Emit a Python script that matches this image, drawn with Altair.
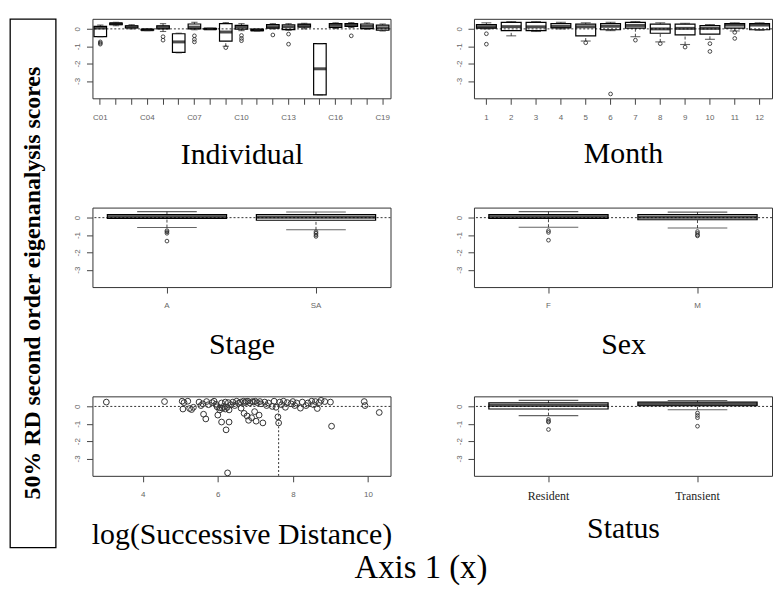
import json
import altair as alt
import pandas as pd

# ---------------- text ----------------
Y_TITLE = "50% RD second order eigenanalysis scores"
X_TITLE = "Axis  1  (x)"

# ---------------- shared y scale ----------------
y_ticks = [0, -1, -2, -3]
y_domain = [-4.0, 0.58]
zero_level = [0.0]

# ---------------- Individual ----------------
individuals = ["C01", "C02", "C03", "C04", "C05", "C06", "C07", "C08", "C09", "C10",
               "C11", "C12", "C13", "C14", "C15", "C16", "C17", "C18", "C19"]
individual_shown = ["C01", "C04", "C07", "C10", "C13", "C16", "C19"]
ind_lw = [-0.45, 0.18, 0.00, -0.10, -0.15, -1.38, -0.05, -0.03, -1.00, -0.10,
          -0.12, 0.00, -0.08, 0.00, -3.80, 0.02, 0.08, -0.02, -0.12]
ind_q1 = [-0.45, 0.24, 0.05, -0.08, 0.00, -1.35, 0.00, -0.02, -0.70, -0.02,
          -0.10, 0.04, -0.04, 0.10, -3.80, 0.08, 0.14, 0.02, -0.08]
ind_med = [0.05, 0.30, 0.12, -0.05, 0.10, -0.75, 0.10, 0.00, -0.18, 0.10,
           -0.06, 0.12, 0.12, 0.20, -2.30, 0.20, 0.22, 0.15, 0.06]
ind_q3 = [0.15, 0.33, 0.18, -0.02, 0.18, -0.28, 0.28, 0.02, 0.30, 0.20,
          -0.03, 0.25, 0.24, 0.27, -0.85, 0.30, 0.30, 0.28, 0.22]
ind_uw = [0.22, 0.38, 0.24, 0.00, 0.30, -0.25, 0.38, 0.03, 0.36, 0.30,
          -0.02, 0.30, 0.30, 0.32, -0.85, 0.35, 0.36, 0.34, 0.28]
ind_out = [[-0.75, -0.82, -0.88], [], [], [], [-0.45, -0.65], [], [-0.40, -0.60, -0.75],
           [], [-1.08], [-0.38, -0.55, -0.68], [], [-0.35], [-0.30, -0.88], [], [],
           [], [-0.40], [], []]

# ---------------- Month ----------------
months = ["1", "2", "3", "4", "5", "6", "7", "8", "9", "10", "11", "12"]
mon_lw = [0.00, -0.40, -0.15, 0.00, -0.70, -0.10, -0.45, -0.75, -0.90, -0.60, -0.12, -0.08]
mon_q1 = [0.04, -0.10, -0.10, 0.06, -0.40, -0.05, 0.04, -0.25, -0.35, -0.30, 0.04, -0.05]
mon_med = [0.12, 0.13, 0.12, 0.14, 0.12, 0.15, 0.20, 0.00, 0.03, 0.03, 0.22, 0.22]
mon_q3 = [0.25, 0.38, 0.38, 0.30, 0.27, 0.30, 0.38, 0.27, 0.27, 0.19, 0.30, 0.30]
mon_uw = [0.35, 0.42, 0.42, 0.38, 0.35, 0.38, 0.42, 0.35, 0.32, 0.25, 0.35, 0.35]
mon_out = [[-0.28, -0.88], [], [], [], [-0.80], [-3.75], [-0.65], [-0.85], [-1.05],
           [-0.85, -1.30], [-0.20, -0.55], []]

# ---------------- Stage ----------------
stages = ["A", "SA"]
stg_lw = [-0.57, -0.70]
stg_q1 = [-0.05, -0.15]
stg_med = [0.05, 0.02]
stg_q3 = [0.17, 0.17]
stg_uw = [0.35, 0.33]
stg_out = [[-0.75, -0.82, -0.90, -1.35], [-0.82, -0.90, -1.00, -1.08]]

# ---------------- Sex ----------------
sexes = ["F", "M"]
sex_lw = [-0.55, -0.60]
sex_q1 = [-0.05, -0.12]
sex_med = [0.05, 0.02]
sex_q3 = [0.18, 0.17]
sex_uw = [0.35, 0.32]
sex_out = [[-0.75, -0.85, -1.30], [-0.80, -0.90, -1.00, -1.05]]

# ---------------- Status ----------------
statuses = ["Resident", "Transient"]
sta_lw = [-0.53, -0.19]
sta_q1 = [-0.15, 0.04]
sta_med = [0.05, 0.12]
sta_q3 = [0.20, 0.25]
sta_uw = [0.35, 0.34]
sta_out = [[-0.75, -0.85, -0.90, -1.33], [-0.38, -0.52, -0.65, -1.14]]

# ---------------- log(Successive Distance) scatter ----------------
dist_x = [3.03, 4.58, 5.05, 5.20, 5.10, 5.07, 5.25, 5.30, 5.35, 5.50,
          5.55, 5.60, 5.70, 5.75, 5.62, 5.68, 5.85, 5.90, 5.95, 5.98,
          6.00, 6.05, 6.05, 6.10, 6.10, 6.12, 6.15, 6.20, 6.20, 6.22,
          6.25, 6.28, 6.30, 6.30, 6.26, 6.35, 6.40, 6.45, 6.50, 6.55,
          6.60, 6.62, 6.68, 6.70, 6.72, 6.75, 6.78, 6.80, 6.82, 6.85,
          6.90, 6.92, 6.95, 6.98, 7.00, 7.02, 7.05, 7.10, 7.12, 7.15,
          7.20, 7.25, 7.30, 7.35, 7.45, 7.50, 7.55, 7.60, 7.62, 7.65,
          7.70, 7.75, 7.80, 7.85, 7.95, 8.00, 8.05, 8.10, 8.20, 8.25,
          8.35, 8.40, 8.50, 8.55, 8.60, 8.65, 8.70, 8.75, 8.85, 9.00,
          9.03, 9.90, 9.92, 10.30]
dist_y = [0.25, 0.28, 0.30, 0.30, 0.22, -0.15, -0.12, -0.18, -0.05, 0.25,
          0.05, 0.15, 0.28, 0.10, -0.45, -0.72, 0.22, 0.30, 0.12, -0.02,
          -0.50, -0.20, -0.08, -0.90, 0.20, -0.10, 0.00, -0.15, 0.25, -1.35,
          -0.05, 0.22, -0.90, -0.20, -3.83, 0.10, 0.25, 0.05, 0.30, 0.18,
          0.25, -0.10, 0.30, -0.40, 0.22, 0.28, -0.55, 0.30, -0.80, 0.20,
          -0.65, 0.28, 0.25, -0.30, 0.30, -0.85, 0.22, -0.50, 0.28, 0.15,
          -0.95, 0.25, 0.05, 0.20, 0.00, 0.30, -0.05, -0.60, -0.95, 0.25,
          0.10, 0.30, -0.05, 0.22, 0.15, 0.28, 0.05, 0.20, -0.10, 0.25,
          0.05, 0.20, 0.30, 0.10, 0.28, -0.12, 0.22, 0.35, 0.28, 0.25,
          -1.14, 0.28, 0.05, -0.35]
dist_vline_x = [7.62]
dist_vline_from = [0.0]
dist_vline_to = [-4.0]
dist_ticks = [4, 6, 8, 10]
dist_domain = [2.66, 10.6]

# ---------------- style / layout ----------------
SERIF = "Liberation Serif"
SANS = "Liberation Sans"
PW, PH = 300, 80
TB_W, TB_H = 46, 532
INK = "#333333"
LABEL_GRAY = "#666666"

y_scale = alt.Scale(domain=y_domain, nice=False, zero=False)
y_axis = alt.Axis(values=y_ticks, labelExpr="datum.value + ''", labelAngle=270,
                  labelAlign="center", labelBaseline="bottom", labelFont=SANS,
                  labelFontSize=8, labelColor=LABEL_GRAY, labelPadding=5,
                  tickSize=6, tickColor="#444444", domain=False, grid=False, title=None)


def x_axis(title, title_pad, label_font=SANS, label_size=8, label_color=LABEL_GRAY,
           values=None, label_expr=None):
    kw = dict(title=title, titleFont=SERIF, titleFontSize=30, titleFontWeight="normal",
              titleColor="black", titlePadding=title_pad, labelFont=label_font,
              labelFontSize=label_size, labelColor=label_color, labelAngle=0,
              labelPadding=9, tickSize=6, tickColor="#444444", domain=False, grid=False)
    if values is not None:
        kw["values"] = values
    if label_expr is not None:
        kw["labelExpr"] = label_expr
    return alt.Axis(**kw)


def zero_line():
    return alt.Chart(pd.DataFrame({"y": zero_level})).mark_rule(
        color=INK, strokeDash=[2, 2], strokeWidth=1
    ).encode(y=alt.Y("y:Q", scale=y_scale, axis=y_axis))


def box_panel(cats, lw, q1, med, q3, uw, outs, axis):
    n = len(cats)
    band = 0.8 * PW / n
    df = pd.DataFrame({"cat": cats, "lw": lw, "q1": q1, "med": med, "q3": q3, "uw": uw})
    orows = [{"cat": c, "val": v} for c, vs in zip(cats, outs) for v in vs]
    odf = pd.DataFrame(orows, columns=["cat", "val"])
    xs = alt.Scale(domain=cats, paddingInner=0.2, paddingOuter=0.1)
    x = alt.X("cat:N", scale=xs, axis=axis)
    base = alt.Chart(df)
    w_lo = base.mark_rule(color=INK, strokeDash=[3, 2], strokeWidth=0.9).encode(
        x=x, y=alt.Y("lw:Q", scale=y_scale, axis=y_axis), y2="q1:Q")
    w_hi = base.mark_rule(color=INK, strokeDash=[3, 2], strokeWidth=0.9).encode(
        x=x, y=alt.Y("q3:Q", scale=y_scale, axis=y_axis), y2="uw:Q")
    box = base.mark_bar(fill="transparent", stroke="black", strokeWidth=1.2).encode(
        x=x, y=alt.Y("q1:Q", scale=y_scale, axis=y_axis), y2="q3:Q")
    mid = base.mark_tick(color="black", thickness=3, size=band).encode(
        x=x, y=alt.Y("med:Q", scale=y_scale, axis=y_axis))
    s_lo = base.mark_tick(color="#222222", thickness=1.1, size=band / 2).encode(
        x=x, y=alt.Y("lw:Q", scale=y_scale, axis=y_axis))
    s_hi = base.mark_tick(color="#222222", thickness=1.1, size=band / 2).encode(
        x=x, y=alt.Y("uw:Q", scale=y_scale, axis=y_axis))
    pts = alt.Chart(odf).mark_point(shape="circle", filled=False, size=14,
                                     strokeWidth=0.9, color=INK, opacity=1).encode(
        x=x, y=alt.Y("val:Q", scale=y_scale, axis=y_axis))
    return alt.layer(zero_line(), w_lo, w_hi, box, mid, s_lo, s_hi, pts).properties(
        width=PW, height=PH)


ind_expr = "indexof(" + json.dumps(individual_shown) + ", datum.value) >= 0 ? datum.value : ''"

p_ind = box_panel(individuals, ind_lw, ind_q1, ind_med, ind_q3, ind_uw, ind_out,
                  x_axis("Individual", 19, label_expr=ind_expr))
p_mon = box_panel(months, mon_lw, mon_q1, mon_med, mon_q3, mon_uw, mon_out,
                  x_axis("Month", 18))
p_stg = box_panel(stages, stg_lw, stg_q1, stg_med, stg_q3, stg_uw, stg_out,
                  x_axis("Stage", 20))
p_sex = box_panel(sexes, sex_lw, sex_q1, sex_med, sex_q3, sex_uw, sex_out,
                  x_axis("Sex", 20))
p_sta = box_panel(statuses, sta_lw, sta_q1, sta_med, sta_q3, sta_uw, sta_out,
                  x_axis("Status", 12, label_font=SERIF, label_size=12, label_color="#222222"))

# scatter panel
dist_df = pd.DataFrame({"d": dist_x, "score": dist_y})
vline_df = pd.DataFrame({"d": dist_vline_x, "top": dist_vline_from, "bottom": dist_vline_to})
dx_scale = alt.Scale(domain=dist_domain, nice=False, zero=False)
dx_axis = x_axis("log(Successive Distance)", 21, values=dist_ticks)
dist_pts = alt.Chart(dist_df).mark_point(shape="circle", filled=False, size=34,
                                          strokeWidth=1, color=INK, opacity=1).encode(
    x=alt.X("d:Q", scale=dx_scale, axis=dx_axis),
    y=alt.Y("score:Q", scale=y_scale, axis=y_axis))
dist_vline = alt.Chart(vline_df).mark_rule(color=INK, strokeDash=[2, 2], strokeWidth=1).encode(
    x=alt.X("d:Q", scale=dx_scale, axis=dx_axis),
    y=alt.Y("top:Q", scale=y_scale, axis=y_axis), y2="bottom:Q")
p_dist = alt.layer(zero_line(), dist_vline, dist_pts).properties(width=PW, height=PH)

grid = alt.concat(p_ind, p_mon, p_stg, p_sex, p_dist, p_sta, columns=2,
                  spacing={"row": 110, "column": 84}, bounds="flush",
                  title=alt.TitleParams(" ", fontSize=7, offset=0))

titlebox = alt.Chart(pd.DataFrame({"t": [Y_TITLE]})).mark_text(
    angle=270, font=SERIF, fontWeight="bold", fontSize=24, align="center",
    baseline="middle", color="black"
).encode(text="t:N", x=alt.value(TB_W / 2), y=alt.value(TB_H / 2)).properties(
    width=TB_W, height=TB_H, view=alt.ViewBackground(stroke="black", strokeWidth=1.3))

chart = alt.hconcat(
    titlebox, grid, spacing=16,
    title=alt.TitleParams(X_TITLE, orient="bottom", anchor="middle", font=SERIF,
                          fontSize=33, fontWeight="normal", color="black", offset=2, dx=30)
).properties(padding=1).configure_view(stroke=INK, strokeWidth=1).configure_axis(
    grid=False, domain=False)

chart.save("out.html", embed_options={"renderer": "svg", "actions": False})
